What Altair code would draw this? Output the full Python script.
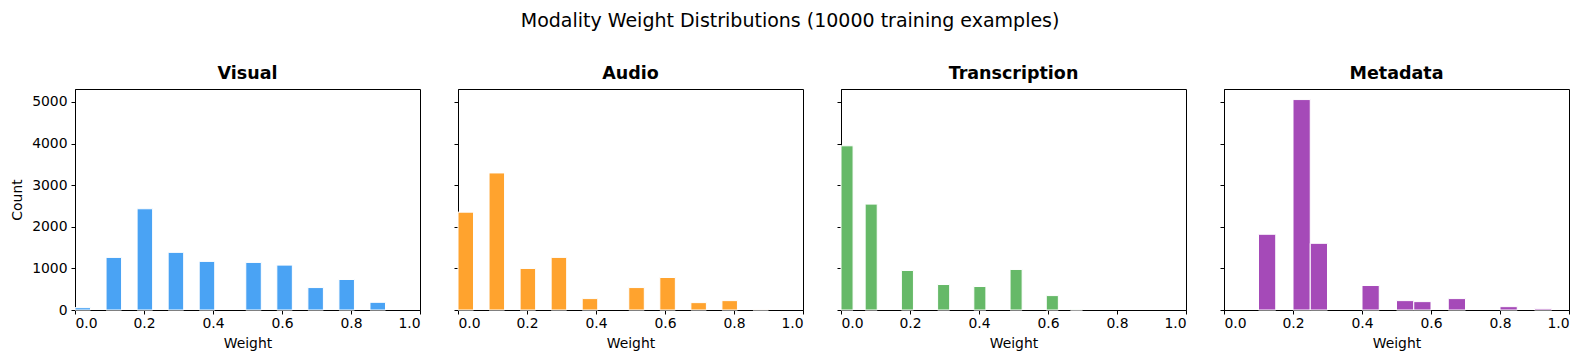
import altair as alt
import pandas as pd

modalities = ["Visual", "Audio", "Transcription", "Metadata"]
colors = ["#4AA3F4", "#FFA32E", "#66B968", "#A54AB8"]
bin_widths = [0.045, 0.045, 0.035, 0.05]

visual_bins = [0.0, 0.09, 0.18, 0.27, 0.36, 0.495, 0.585, 0.675, 0.765, 0.855]
visual_counts = [56, 1264, 2432, 1385, 1168, 1143, 1079, 539, 733, 185]

audio_bins = [0.0, 0.09, 0.18, 0.27, 0.36, 0.495, 0.585, 0.675, 0.765, 0.855]
audio_counts = [2351, 3293, 998, 1264, 274, 539, 781, 177, 225, 10]

trans_bins = [0.0, 0.07, 0.175, 0.28, 0.385, 0.49, 0.595, 0.665]
trans_counts = [3945, 2544, 950, 612, 564, 974, 346, 6]

meta_bins = [0.1, 0.2, 0.25, 0.4, 0.5, 0.55, 0.65, 0.8, 0.9]
meta_counts = [1820, 5056, 1602, 588, 225, 201, 274, 80, 32]

x_ticks = [0.0, 0.2, 0.4, 0.6, 0.8, 1.0]
y_ticks = [0, 1000, 2000, 3000, 4000, 5000]
y_max = 5310

all_bins = [visual_bins, audio_bins, trans_bins, meta_bins]
all_counts = [visual_counts, audio_counts, trans_counts, meta_counts]

FONT = "DejaVu Sans"

panels = []
for i, name in enumerate(modalities):
    w = bin_widths[i]
    df = pd.DataFrame({
        "start": all_bins[i],
        "end": [b + w for b in all_bins[i]],
        "count": all_counts[i],
    })
    if i == 0:
        yaxis = alt.Axis(values=y_ticks, format="d", title="Count", labels=True)
    else:
        yaxis = alt.Axis(values=y_ticks, format="d", title="", labels=False)
    ch = alt.Chart(df).mark_rect(color=colors[i], stroke="white", strokeWidth=1).encode(
        x=alt.X("start:Q", scale=alt.Scale(domain=[0, 1], nice=False, zero=False),
                axis=alt.Axis(values=x_ticks, format=".1f", title="Weight")),
        x2="end:Q",
        y=alt.Y("count:Q", scale=alt.Scale(domain=[0, y_max], nice=False), axis=yaxis),
        y2=alt.datum(0),
    ).properties(
        width=345, height=221,
        title=alt.TitleParams(name, font=FONT, fontSize=17.5, fontWeight="bold",
                              color="black", offset=7, anchor="middle"),
    )
    panels.append(ch)

chart = alt.hconcat(*panels, spacing=38, bounds="flush").properties(
    title=alt.TitleParams("Modality Weight Distributions (10000 training examples)",
                          font=FONT, fontSize=19, fontWeight="normal", color="black",
                          anchor="middle", offset=33),
    padding={"left": 2, "top": 4, "right": 5, "bottom": 5},
).configure_view(
    stroke="black", strokeWidth=1
).configure_axis(
    grid=False, domainColor="black", domainWidth=1, tickColor="black", tickWidth=1,
    tickSize=4, labelFont=FONT, labelFontSize=13.9, labelColor="black", labelPadding=4,
    titleFont=FONT, titleFontSize=13.9, titleFontWeight="normal", titleColor="black",
).configure_axisY(titlePadding=7).configure_axisX(titlePadding=7, labelPadding=2)

chart.save("out.html", embed_options={"renderer": "svg", "actions": False})
